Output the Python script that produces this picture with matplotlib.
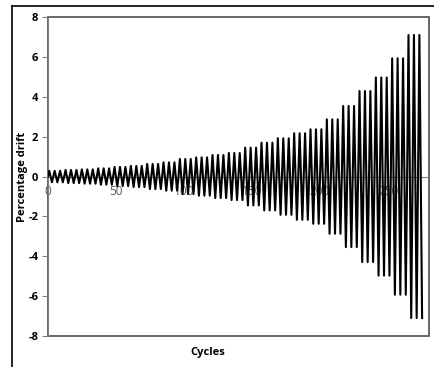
import numpy as np
import matplotlib
matplotlib.use("Agg")
import matplotlib.pyplot as plt
from matplotlib.lines import Line2D

plt.rcParams['font.family'] = ['Open Sans', 'DejaVu Sans']

# drift amplitude (%) of each loading step
amplitudes = [0.29, 0.33, 0.36, 0.41, 0.48, 0.53, 0.63, 0.71, 0.88, 0.96,
              1.08, 1.18, 1.45, 1.70, 1.92, 2.17, 2.37, 2.87, 3.54, 4.29,
              4.97, 5.93, 7.10]
cycles_per_step = 3
cycle_shape = [0, 1, 0, -1]   # one load cycle: zero, push, zero, pull

x_ticks = [0, 50, 100, 150, 200, 250]
y_ticks = [-8, -6, -4, -2, 0, 2, 4, 6, 8]

# build the drift history point by point
drift = []
for a in amplitudes:
    for c in range(cycles_per_step):
        for s in cycle_shape:
            drift.append(s * a)
steps = np.arange(len(drift))

fig = plt.figure(figsize=(4.35, 3.67), dpi=100)
ax = fig.add_axes([0.110, 0.0845, 0.876, 0.869])

ax.plot(steps, drift, color='black', lw=1.5, zorder=3)

ax.set_xlim(0, 280)
ax.set_ylim(-8, 8)

# plot-area box
ax.patch.set_edgecolor('#5a5a5a')
ax.patch.set_linewidth(1.3)
for side in ['top', 'right']:
    ax.spines[side].set_visible(False)
ax.spines['left'].set_color('#7f7f7f')
ax.spines['bottom'].set_position(('data', 0))
ax.spines['bottom'].set_color('#7f7f7f')
ax.spines['bottom'].set_linewidth(0.8)
ax.set_axisbelow(True)

ax.set_xticks(x_ticks)
ax.set_xticklabels([str(v) for v in x_ticks], fontsize=8.5, color='#595959')
ax.tick_params(axis='x', length=0, pad=6)
ax.set_yticks(y_ticks)
ax.set_yticklabels([str(v) for v in y_ticks], fontsize=8, fontweight='bold')
ax.tick_params(axis='y', direction='out', length=4, color='#7f7f7f', pad=3)

ax.set_ylabel('Percentage drift', fontsize=8, fontweight='bold')
ax.yaxis.set_label_coords(-0.052, 0.5)
ax.set_xlabel('Cycles', fontsize=8, fontweight='bold')
ax.xaxis.set_label_coords(0.42, -0.035)

# outer frame visible at the top and left of the image
fig.add_artist(Line2D([12 / 435, 1.0], [1 - 6 / 367, 1 - 6 / 367],
                      color='black', lw=1.2, transform=fig.transFigure))
fig.add_artist(Line2D([12 / 435, 12 / 435], [0.0, 1 - 6 / 367],
                      color='black', lw=1.2, transform=fig.transFigure))

fig.savefig('out.png', dpi=100)
